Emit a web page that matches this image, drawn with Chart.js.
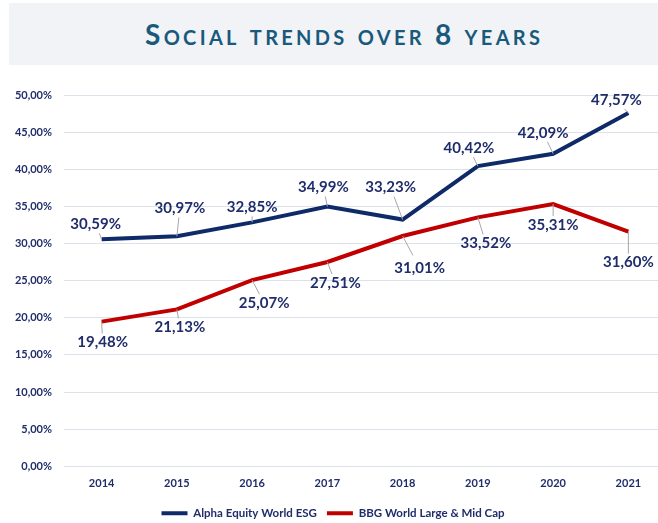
<!DOCTYPE html>
<html>
<head>
<meta charset="utf-8">
<script src="https://cdn.jsdelivr.net/npm/chart.js@4.4.1/dist/chart.umd.min.js"></script>
<style>
    html, body { margin: 0; padding: 0; background: #ffffff; overflow: hidden; width: 658px; height: 523px; }
    .band {
        position: absolute; left: 9px; top: 3px; width: 649px; height: 62px;
        background: #f2f3f7;
    }
    .band h1 {
        position: absolute; left: 136px; top: 0; margin: 0; white-space: nowrap;
        line-height: 62px;
        font-family: Lato, sans-serif; font-weight: 700; font-size: 28px;
        font-variant: small-caps; letter-spacing: 3.3px; color: #195a7c;
    }
    .wrap { position: absolute; left: 0; top: 66px; width: 666px; height: 466px; }
</style>
</head>
<body>
<div class="band"><h1>Social trends over 8 years</h1></div>
<div class="wrap"><canvas id="socialChart"></canvas></div>
<script>
// data
const years = ['2014', '2015', '2016', '2017', '2018', '2019', '2020', '2021'];
const alphaEsg = [30.59, 30.97, 32.85, 34.99, 33.23, 40.42, 42.09, 47.57];
const bbgWorld = [19.48, 21.13, 25.07, 27.51, 31.01, 33.52, 35.31, 31.60];
const seriesNames = ['Alpha Equity World ESG', 'BBG World Large & Mid Cap'];

// label placement relative to the point (px)
const labelShift = [
    [[-6, -15], [3, -28], [0, -15], [-4, -19], [-12, -32], [-9, -18], [-10, -21], [-12, -13]],
    [[1, 21], [3, 18], [12, 23], [8, 21], [17, 32], [8, 26], [0, 21], [0, 31]]
];

const navy = '#1f2d6b';
const pct = v => v.toFixed(2).replace('.', ',') + '%';

const valueLabels = {
    id: 'valueLabels',
    afterDatasetsDraw(chart) {
        const ctx = chart.ctx;
        ctx.save();
        ctx.font = 'bold 15px Lato';
        ctx.textAlign = 'center';
        ctx.textBaseline = 'middle';
        chart.data.datasets.forEach((ds, di) => {
            const meta = chart.getDatasetMeta(di);
            meta.data.forEach((pt, i) => {
                const [dx, dy] = labelShift[di][i];
                const lx = pt.x + dx;
                const ly = pt.y + dy;
                const txt = pct(ds.data[i]);
                const halfW = ctx.measureText(txt).width / 2 + 2;
                const halfH = 9;
                // leader line from the point to the edge of the label box
                const t = Math.min(
                    dx !== 0 ? Math.abs((Math.abs(dx) - halfW) / dx) : 1,
                    dy !== 0 ? Math.abs((Math.abs(dy) - halfH) / dy) : 1
                );
                const ex = pt.x + dx * Math.min(1, t);
                const ey = pt.y + dy * Math.min(1, t);
                const len = Math.hypot(ex - pt.x, ey - pt.y);
                if (len > 4 && Math.abs(dy) > halfH) {
                    ctx.strokeStyle = '#a6a6a6';
                    ctx.lineWidth = 1;
                    ctx.beginPath();
                    ctx.moveTo(pt.x, pt.y);
                    ctx.lineTo(ex, ey);
                    ctx.stroke();
                }
                ctx.fillStyle = navy;
                ctx.fillText(txt, lx, ly);
            });
        });
        ctx.restore();
    }
};

new Chart(document.getElementById('socialChart'), {
    type: 'line',
    data: {
        labels: years,
        datasets: [
            {
                label: seriesNames[0],
                data: alphaEsg,
                borderColor: '#0f2a68',
                backgroundColor: '#0f2a68',
                borderWidth: 4,
                pointRadius: 0,
                tension: 0
            },
            {
                label: seriesNames[1],
                data: bbgWorld,
                borderColor: '#c00000',
                backgroundColor: '#c00000',
                borderWidth: 4,
                pointRadius: 0,
                tension: 0
            }
        ]
    },
    options: {
        responsive: true,
        maintainAspectRatio: false,
        animation: false,
        layout: {
            padding: { top: 29, right: 0, bottom: 3, left: 0 }
        },
        scales: {
            x: {
                offset: true,
                grid: { display: false },
                border: { display: false },
                afterFit: function(scale) { scale.height = scale.height + 4; },
                ticks: {
                    color: navy,
                    padding: 3,
                    font: { family: 'Lato', size: 11, weight: 'bold' }
                }
            },
            y: {
                min: 0,
                max: 50,
                grid: { color: '#dde1ea', lineWidth: 1, drawTicks: false },
                border: { display: false },
                afterFit: function(scale) { scale.width = 64; },
                ticks: {
                    stepSize: 5,
                    color: navy,
                    padding: 12,
                    font: { family: 'Lato', size: 11, weight: 'bold' },
                    callback: v => pct(v)
                }
            }
        },
        plugins: {
            legend: {
                position: 'bottom',
                labels: {
                    usePointStyle: true,
                    pointStyle: 'line',
                    pointStyleWidth: 26,
                    padding: 10,
                    color: navy,
                    font: { family: 'Lato', size: 11.5, weight: 'bold' }
                }
            },
            tooltip: { enabled: false }
        }
    },
    plugins: [valueLabels]
});
</script>
</body>
</html>
